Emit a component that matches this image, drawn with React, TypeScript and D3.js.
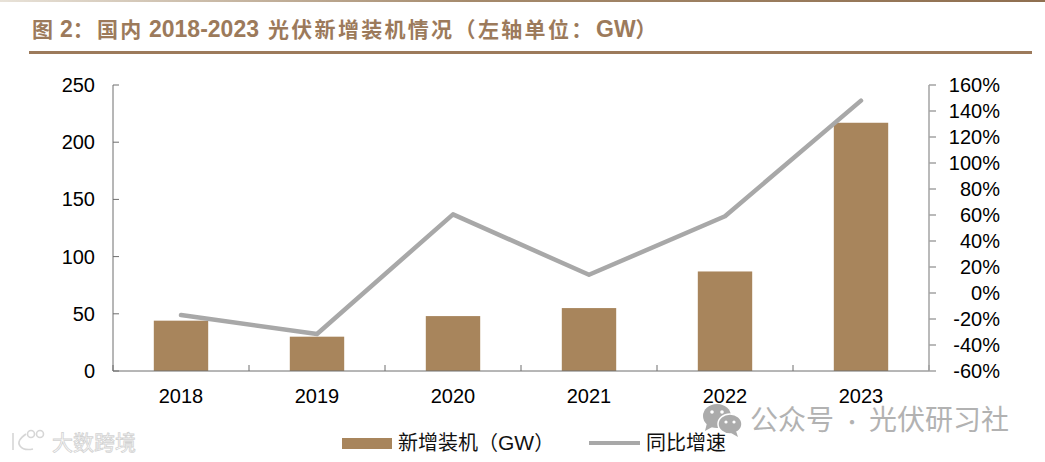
import * as d3 from 'd3';

const years = ['2018', '2019', '2020', '2021', '2022', '2023'];
const installs = [44, 30, 48, 55, 87, 217];
const growth = [-17, -31.5, 60.5, 14, 59, 148];
const leftTicks = [0, 50, 100, 150, 200, 250];
const rightTicks = [-60, -40, -20, 0, 20, 40, 60, 80, 100, 120, 140, 160];

const width = 1045;
const height = 462;
const margin = {top: 85, right: 116, bottom: 91, left: 113};
const axisColor = '#a3a3a3';
const baseColor = '#6e6e6e';
const barColor = '#a8855c';
const lineColor = '#a8a8a8';
const titleColor = '#9c7a5b';
const cjk = '"Noto Sans CJK SC", sans-serif';
const latin = '"Liberation Sans", Arial, sans-serif';

const App = () => {
  const bottom = height - margin.bottom;
  const right = width - margin.right;

  const x = d3.scaleBand().domain(years).range([margin.left, right]);
  const yLeft = d3.scaleLinear().domain([0, 250]).range([bottom, margin.top]);
  const yRight = d3.scaleLinear().domain([-60, 160]).range([bottom, margin.top]);
  const barWidth = x.bandwidth() * 0.4;

  const line = d3
    .line<number>()
    .x((_, i) => x(years[i])! + x.bandwidth() / 2)
    .y((d) => yRight(d));

  return (
    <svg
      width={width}
      height={height}
      style={{position: 'absolute', left: 0, top: 0, background: '#fff'}}
    >
      <defs>
        <linearGradient id='topRule' x1='0' x2='1' y1='0' y2='0'>
          <stop offset='0' stopColor='#e8e2d8' />
          <stop offset='0.45' stopColor='#a58a6c' />
          <stop offset='1' stopColor='#8f6f50' />
        </linearGradient>
      </defs>
      <rect x={0} y={0} width={width} height={2} fill='url(#topRule)' />

      <text y={37} fill={titleColor} fontSize={21} fontWeight={700} fontFamily={cjk} letterSpacing={2.3}>
        <tspan x={32}>图</tspan>
        <tspan x={60} fontFamily={latin} fontSize={23} letterSpacing={0}>2</tspan>
        <tspan>：</tspan>
        <tspan x={97}>国内</tspan>
        <tspan x={149} fontFamily={latin} fontSize={23} letterSpacing={0}>2018-2023</tspan>
        <tspan x={268}>光伏新增装机情况（</tspan>
        <tspan x={478}>左轴单位：</tspan>
        <tspan x={596} fontFamily={latin} fontSize={23} letterSpacing={0}>GW</tspan>
        <tspan>）</tspan>
      </text>
      <rect x={29} y={51} width={1003} height={3} fill={titleColor} />

      {installs.map((d, i) => (
        <rect
          key={years[i]}
          x={x(years[i])! + (x.bandwidth() - barWidth) / 2}
          y={yLeft(d)}
          width={barWidth}
          height={bottom - yLeft(d)}
          fill={barColor}
        />
      ))}

      <path d={line(growth)!} fill='none' stroke={lineColor} strokeWidth={4.5} strokeLinecap='round' strokeLinejoin='round' />

      <g fill='none'>
        <g stroke={baseColor} strokeWidth={1}>
          <line x1={margin.left} x2={margin.left} y1={margin.top} y2={bottom} />
          <line x1={margin.left} x2={right} y1={bottom} y2={bottom} />
          {leftTicks.map((t) => (
            <line key={t} x1={margin.left} x2={margin.left + 6} y1={yLeft(t)} y2={yLeft(t)} />
          ))}
          {[...years.map((y) => x(y)!), right].map((p) => (
            <line key={p} x1={p} x2={p} y1={bottom} y2={bottom - 6} />
          ))}
        </g>
        <g stroke={axisColor} strokeWidth={1.5}>
          <line x1={right} x2={right} y1={margin.top} y2={bottom} />
          {rightTicks.map((t) => (
            <line key={t} x1={right} x2={right + 7} y1={yRight(t)} y2={yRight(t)} />
          ))}
        </g>
      </g>

      <g fontFamily={latin} fontSize={20} fill='#000'>
        {leftTicks.map((t) => (
          <text key={t} x={95} y={yLeft(t)} dy='0.35em' textAnchor='end'>{t}</text>
        ))}
        {rightTicks.map((t) => (
          <text key={t} x={1000} y={yRight(t)} dy='0.35em' textAnchor='end'>{t}%</text>
        ))}
        {years.map((y) => (
          <text key={y} x={x(y)! + x.bandwidth() / 2} y={403} textAnchor='middle'>{y}</text>
        ))}
      </g>

      <rect x={342} y={438} width={50} height={11} fill={barColor} />
      <text x={398} y={450} fontSize={20} fontFamily={cjk} fill='#111'>
        新增装机（<tspan fontFamily={latin} fontSize={21}>GW</tspan>）
      </text>
      <line x1={589} x2={640} y1={443} y2={443} stroke={lineColor} strokeWidth={4} />
      <text x={646} y={450} fontSize={20} fontFamily={cjk} fill='#111'>同比增速</text>

      {/* wechat watermark */}
      <text y={430} fontSize={28} fontFamily={cjk} fill='#b2b2b2'>
        <tspan x={750}>公众号</tspan>
        <tspan x={842} fontSize={20}>·</tspan>
        <tspan x={869}>光伏研习社</tspan>
      </text>
      <g>
        <ellipse cx={717} cy={416} rx={14} ry={12} fill='#ababab' />
        <path d='M707 423 L705 431 L714 426 Z' fill='#ababab' />
        <circle cx={712} cy={412} r={1.8} fill='#fff' />
        <circle cx={722} cy={412} r={1.8} fill='#fff' />
        <ellipse cx={730} cy={424} rx={12} ry={10} fill='#ababab' stroke='#fff' strokeWidth={1.5} />
        <path d='M736 431 L738 437 L731 433 Z' fill='#ababab' />
        <circle cx={726} cy={422} r={1.6} fill='#fff' />
        <circle cx={734} cy={422} r={1.6} fill='#fff' />
      </g>

      {/* faint site logo, bottom left */}
      <g fill='none' stroke='#d6d6d6' strokeWidth={1.6}>
        <path d='M13 433 V450 M26 434 Q16 441 20 446 Q24 451 33 449' />
        <circle cx={31} cy={434} r={3.5} />
        <circle cx={40} cy={434} r={3.5} />
      </g>
      <text x={52} y={450} fontSize={21} fontFamily={cjk} fill='#fff' stroke='#d2d2d2' strokeWidth={0.8}>大数跨境</text>
    </svg>
  );
};

export default App;
